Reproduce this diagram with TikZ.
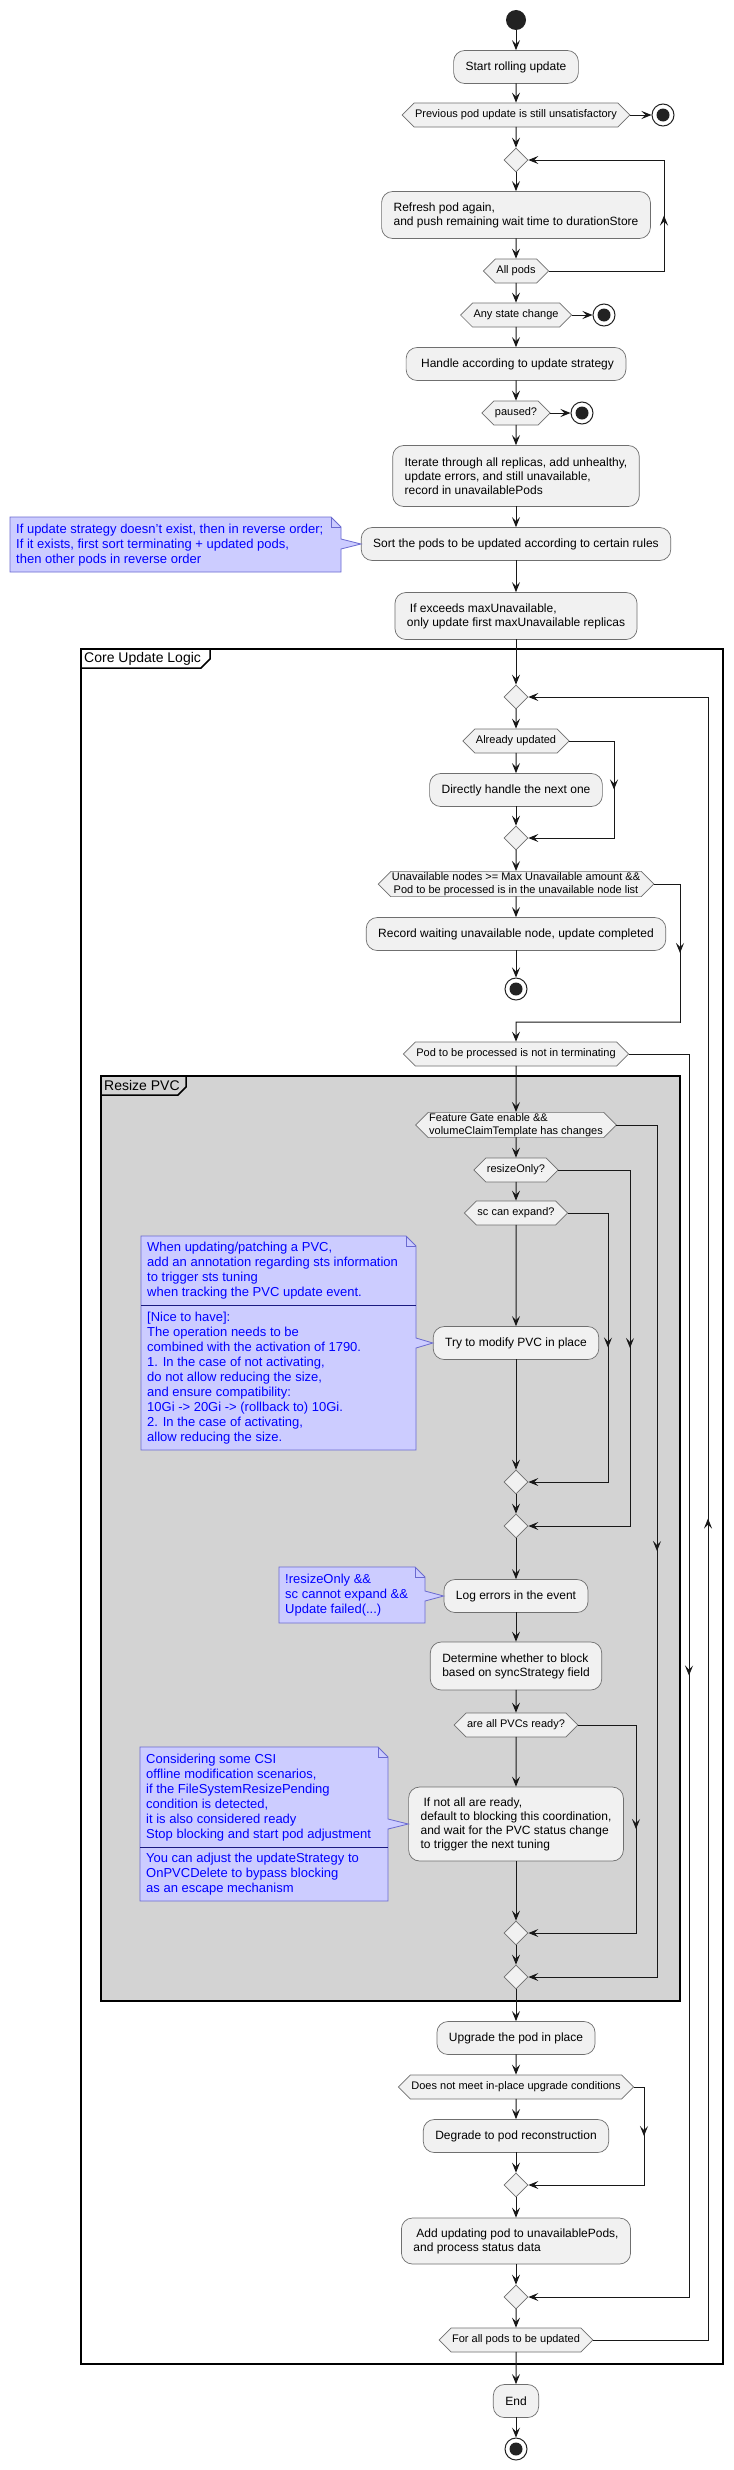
\documentclass[tikz,border=0pt]{standalone}
\usepackage{fontspec}
\setmainfont{Liberation Sans}
\usetikzlibrary{shapes.geometric,shapes.symbols,arrows.meta,decorations.markings,calc}
\definecolor{boxfill}{HTML}{F1F1F1}
\definecolor{boxline}{HTML}{6F6F6F}
\definecolor{linecol}{HTML}{181818}
\definecolor{dotcol}{HTML}{222222}
\definecolor{notefill}{HTML}{CCCCFF}
\definecolor{noteline}{HTML}{6A6AD0}
\definecolor{notesepcol}{HTML}{1A1A80}
\definecolor{notetext}{HTML}{0000FF}
\definecolor{resizefill}{HTML}{D3D3D3}

\begin{document}
\begin{tikzpicture}[x=1bp, y=-1bp,
    act/.style={rectangle, rounded corners=11bp, draw=boxline, fill=boxfill, line width=0.7bp,
      font=\fontsize{12bp}{14bp}\selectfont, align=left, inner xsep=12bp, inner ysep=0bp, minimum height=33bp},
    ifhex/.style={signal, signal to=east and west, draw=boxline, fill=boxfill, line width=0.7bp,
      font=\fontsize{11bp}{13bp}\selectfont, align=left, inner xsep=1bp, inner ysep=1bp, minimum height=24bp},
    merge/.style={diamond, draw=boxline, fill=boxfill, line width=0.7bp, minimum width=24bp, minimum height=24bp, inner sep=0bp},
    startdot/.style={circle, fill=dotcol, minimum size=20bp, inner sep=0bp},
    stopdot/.style={circle, draw=dotcol, fill=white, line width=1bp, minimum size=22bp, inner sep=0bp,
      path picture={\fill[dotcol] (path picture bounding box.center) circle[radius=6.5bp];}},
    wire/.style={color=linecol, line width=1bp, line cap=rect},
    flow/.style={wire, -{Stealth[length=10bp,width=8bp,inset=4bp]}},
    midtip/.style={postaction={decorate}, decoration={markings,
      mark=at position 0.5 with {\arrow{Stealth[length=10bp,width=8bp,inset=4bp]}}}},
    partframe/.style={draw=black, line width=1.5bp},
    frametitle/.style={font=\fontsize{14bp}{16bp}\selectfont, anchor=west, inner sep=0bp},
    noteshape/.style={draw=noteline, fill=notefill, line width=0.8bp},
    notesep/.style={draw=notesepcol, line width=1bp},
    notebox/.style={font=\fontsize{13bp}{15bp}\selectfont, text=notetext, align=left, anchor=north west, inner sep=0bp}]

  % --- canvas ---
  \fill[white] (0,0) rectangle (734,2470);

  % --- Partition: Core Update Logic ---
  \draw[partframe, fill=white] (81,649) rectangle (723,2364);
  \draw[partframe] (81,668) -- (201,668) -- (210,659) -- (210,649);
  \node[frametitle] (coretitle) at (84,658.5) {Core Update Logic};

  % --- Partition: Resize PVC ---
  \draw[partframe, fill=resizefill] (101,1076) rectangle (680,2001);
  \draw[partframe] (101,1095) -- (178,1095) -- (186,1087) -- (186,1076);
  \node[frametitle] (resizetitle) at (104,1085.5) {Resize PVC};

  % --- branch columns ---
  \coordinate (cTop) at (664,0);
  \coordinate (cDone) at (614,0);
  \coordinate (cWait) at (680,0);
  \coordinate (cTerm) at (689,0);
  \coordinate (cLoop) at (708,0);
  \coordinate (cGate) at (657,0);
  \coordinate (cResz) at (630,0);
  \coordinate (cExp) at (608,0);
  \coordinate (cReady) at (636,0);
  \coordinate (cMeet) at (644,0);

  % --- Preparation ---
  \node[startdot] (start) at (516,20) {};
  \node[act] (rolling) at (516,67) {Start rolling update};
  \node[ifhex] (prevdec) at (516,115) {Previous pod update is still unsatisfactory};
  \node[stopdot] (stopA) at (663,115) {};
  \node[merge] (mergeA) at (516,160) {};
  \node[act, minimum height=47bp] (refresh) at (516,215) {Refresh pod again,\\and push remaining wait time to durationStore};
  \node[ifhex] (allpods) at (516,271) {All pods};
  \node[ifhex] (anychg) at (516,315) {Any state change};
  \node[stopdot] (stopB) at (604,315) {};
  \node[act] (handle) at (516,364) {\hspace*{3bp}Handle according to update strategy};
  \node[ifhex] (paused) at (516,413) {paused?};
  \node[stopdot] (stopC) at (582,413) {};
  \node[act, minimum height=61bp] (iterate) at (516,476) {Iterate through all replicas, add unhealthy,\\update errors, and still unavailable,\\record in unavailablePods};
  \node[act] (sortpods) at (516,544) {Sort the pods to be updated according to certain rules};
  \node[act, minimum height=47bp] (exceeds) at (516,616) {\hspace*{3bp}If exceeds maxUnavailable,\\only update first maxUnavailable replicas};

  % --- Core loop ---
  \node[merge] (mergeB) at (516,697) {};
  \node[ifhex] (updated) at (516,741) {Already updated};
  \node[act] (direct) at (516,790) {Directly handle the next one};
  \node[merge] (mergeC) at (516,838) {};
  \node[ifhex, align=center] (unavail) at (516,884) {Unavailable nodes >= Max Unavailable amount \&\&\\Pod to be processed is in the unavailable node list};
  \node[act] (recwait) at (516,934) {Record waiting unavailable node, update completed};
  \node[stopdot] (stopD) at (516,989) {};
  \coordinate (jWait) at (516,1022);
  \node[ifhex] (notterm) at (516,1054) {Pod to be processed is not in terminating};

  % --- Resize PVC ---
  \node[ifhex] (fgate) at (516,1125) {Feature Gate enable \&\&\\volumeClaimTemplate has changes};
  \node[ifhex] (rszonly) at (516,1170) {resizeOnly?};
  \node[ifhex] (scexp) at (516,1213) {sc can expand?};
  \node[act] (trypvc) at (516,1343) {Try to modify PVC in place};
  \node[merge] (mergeD) at (516,1482) {};
  \node[merge] (mergeE) at (516,1526) {};
  \node[act] (logerr) at (516,1596) {Log errors in the event};
  \node[act, minimum height=48bp] (decide) at (516,1666) {Determine whether to block\\based on syncStrategy field};
  \node[ifhex] (pvcready) at (516,1725) {are all PVCs ready?};
  \node[act, minimum height=74bp] (notready) at (516,1824) {\hspace*{3bp}If not all are ready,\\default to blocking this coordination,\\and wait for the PVC status change\\to trigger the next tuning};
  \node[merge] (mergeF) at (516,1933) {};
  \node[merge] (mergeG) at (516,1977) {};

  % --- Pod upgrade ---
  \node[act] (inplace) at (516,2038) {Upgrade the pod in place};
  \node[ifhex] (nomeet) at (516,2087) {Does not meet in-place upgrade conditions};
  \node[act] (degrade) at (516,2136) {Degrade to pod reconstruction};
  \node[merge] (mergeH) at (516,2185) {};
  \node[act, minimum height=46bp] (addpod) at (516,2241) {\hspace*{3bp}Add updating pod to unavailablePods,\\and process status data};
  \node[merge] (mergeI) at (516,2297) {};
  \node[ifhex] (forall) at (516,2340) {For all pods to be updated};
  \node[act] (finish) at (516,2401) {End};
  \node[stopdot] (stopE) at (516,2449) {};

  % --- Main flow ---
  \draw[flow] (start) -- (rolling);
  \draw[flow] (rolling) -- (prevdec);
  \draw[flow] (prevdec.east) -- (stopA);
  \draw[flow] (prevdec) -- (mergeA);
  \draw[flow] (mergeA) -- (refresh);
  \draw[flow] (refresh) -- (allpods);
  \draw[flow] (allpods) -- (anychg);
  \draw[flow] (anychg.east) -- (stopB);
  \draw[flow] (anychg) -- (handle);
  \draw[flow] (handle) -- (paused);
  \draw[flow] (paused.east) -- (stopC);
  \draw[flow] (paused) -- (iterate);
  \draw[flow] (iterate) -- (sortpods);
  \draw[flow] (sortpods) -- (exceeds);
  \draw[flow] (exceeds) -- (mergeB);
  \draw[flow] (mergeB) -- (updated);
  \draw[flow] (updated) -- (direct);
  \draw[flow] (direct) -- (mergeC);
  \draw[flow] (mergeC) -- (unavail);
  \draw[flow] (unavail) -- (recwait);
  \draw[flow] (recwait) -- (stopD);
  \draw[flow] (notterm) -- (fgate);
  \draw[flow] (fgate) -- (rszonly);
  \draw[flow] (rszonly) -- (scexp);
  \draw[flow] (scexp) -- (trypvc);
  \draw[flow] (trypvc) -- (mergeD);
  \draw[flow] (mergeD) -- (mergeE);
  \draw[flow] (mergeE) -- (logerr);
  \draw[flow] (logerr) -- (decide);
  \draw[flow] (decide) -- (pvcready);
  \draw[flow] (pvcready) -- (notready);
  \draw[flow] (notready) -- (mergeF);
  \draw[flow] (mergeF) -- (mergeG);
  \draw[flow] (mergeG) -- (inplace);
  \draw[flow] (inplace) -- (nomeet);
  \draw[flow] (nomeet) -- (degrade);
  \draw[flow] (degrade) -- (mergeH);
  \draw[flow] (mergeH) -- (addpod);
  \draw[flow] (addpod) -- (mergeI);
  \draw[flow] (mergeI) -- (forall);
  \draw[flow] (forall) -- (finish);
  \draw[flow] (finish) -- (stopE);

  % --- Loop back: All pods ---
  \draw[wire] (allpods.east) -- (allpods.east -| cTop);
  \draw[wire, midtip] (allpods.east -| cTop) -- (cTop |- mergeA);
  \draw[flow] (cTop |- mergeA) -- (mergeA.east);

  % --- Branch: Already updated ---
  \draw[wire] (updated.east) -- (updated.east -| cDone);
  \draw[wire, midtip] (updated.east -| cDone) -- (cDone |- mergeC);
  \draw[flow] (cDone |- mergeC) -- (mergeC.east);

  % --- Branch: unavailable check ---
  \draw[wire] (unavail.east) -- (unavail.east -| cWait);
  \draw[wire, midtip] (unavail.east -| cWait) -- (cWait |- jWait);
  \draw[flow] (cWait |- jWait) -- (jWait) -- (notterm);

  % --- Branch: terminating ---
  \draw[wire] (notterm.east) -- (notterm.east -| cTerm);
  \draw[wire, midtip] (notterm.east -| cTerm) -- (cTerm |- mergeI);
  \draw[flow] (cTerm |- mergeI) -- (mergeI.east);

  % --- Branch: Feature Gate ---
  \draw[wire] (fgate.east) -- (fgate.east -| cGate);
  \draw[wire, midtip] (fgate.east -| cGate) -- (cGate |- mergeG);
  \draw[flow] (cGate |- mergeG) -- (mergeG.east);

  % --- Branch: resizeOnly ---
  \draw[wire] (rszonly.east) -- (rszonly.east -| cResz);
  \draw[wire, midtip] (rszonly.east -| cResz) -- (cResz |- mergeE);
  \draw[flow] (cResz |- mergeE) -- (mergeE.east);

  % --- Branch: sc can expand ---
  \draw[wire] (scexp.east) -- (scexp.east -| cExp);
  \draw[wire, midtip] (scexp.east -| cExp) -- (cExp |- mergeD);
  \draw[flow] (cExp |- mergeD) -- (mergeD.east);

  % --- Branch: PVCs ready ---
  \draw[wire] (pvcready.east) -- (pvcready.east -| cReady);
  \draw[wire, midtip] (pvcready.east -| cReady) -- (cReady |- mergeF);
  \draw[flow] (cReady |- mergeF) -- (mergeF.east);

  % --- Branch: in-place conditions ---
  \draw[wire] (nomeet.east) -- (nomeet.east -| cMeet);
  \draw[wire, midtip] (nomeet.east -| cMeet) -- (cMeet |- mergeH);
  \draw[flow] (cMeet |- mergeH) -- (mergeH.east);

  % --- Loop back: For all pods ---
  \draw[wire] (forall.east) -- (forall.east -| cLoop);
  \draw[wire, midtip] (forall.east -| cLoop) -- (cLoop |- mergeB);
  \draw[flow] (cLoop |- mergeB) -- (mergeB.east);

  % --- Note: sort order ---
  \filldraw[noteshape] (10,517) -- (331,517) -- (341,527) -- (341,539) -- (sortpods.west) -- (341,549) -- (341,572) -- (10,572) -- cycle;
  \draw[noteshape, fill=none] (331,517) -- (331,527) -- (341,527);
  \node[notebox, minimum height=55bp] (note1) at (16,517) {If update strategy doesn't exist, then in reverse order;\\If it exists, first sort terminating + updated pods,\\then other pods in reverse order};

  % --- Note: PVC patching ---
  \filldraw[noteshape] (141,1236) -- (406,1236) -- (416,1246) -- (416,1338) -- (trypvc.west) -- (416,1348) -- (416,1450) -- (141,1450) -- cycle;
  \draw[noteshape, fill=none] (406,1236) -- (406,1246) -- (416,1246);
  \draw[notesep] (141,1305) -- (416,1305);
  \node[notebox, minimum height=69bp] (note2a) at (147,1236) {When updating/patching a PVC,\\add an annotation regarding sts information\\to trigger sts tuning\\when tracking the PVC update event.};
  \node[notebox, minimum height=145bp] (note2b) at (147,1305) {[Nice to have]:\\The operation needs to be\\combined with the activation of 1790.\\1. In the case of not activating,\\do not allow reducing the size,\\and ensure compatibility:\\10Gi -> 20Gi -> (rollback to) 10Gi.\\2. In the case of activating,\\allow reducing the size.};

  % --- Note: failure condition ---
  \filldraw[noteshape] (279,1567) -- (415,1567) -- (425,1577) -- (425,1591) -- (logerr.west) -- (425,1601) -- (425,1623) -- (279,1623) -- cycle;
  \draw[noteshape, fill=none] (415,1567) -- (415,1577) -- (425,1577);
  \node[notebox, minimum height=56bp] (note3) at (285,1567) {!resizeOnly \&\&\\sc cannot expand \&\&\\Update failed(...)};

  % --- Note: CSI offline resize ---
  \filldraw[noteshape] (140,1747) -- (378,1747) -- (388,1757) -- (388,1819) -- (notready.west) -- (388,1829) -- (388,1901) -- (140,1901) -- cycle;
  \draw[noteshape, fill=none] (378,1747) -- (378,1757) -- (388,1757);
  \draw[notesep] (140,1847) -- (388,1847);
  \node[notebox, minimum height=100bp] (note4a) at (146,1747) {Considering some CSI\\offline modification scenarios,\\if the FileSystemResizePending\\condition is detected,\\it is also considered ready\\Stop blocking and start pod adjustment};
  \node[notebox, minimum height=54bp] (note4b) at (146,1847) {You can adjust the updateStrategy to\\OnPVCDelete to bypass blocking\\as an escape mechanism};
\end{tikzpicture}
\end{document}
